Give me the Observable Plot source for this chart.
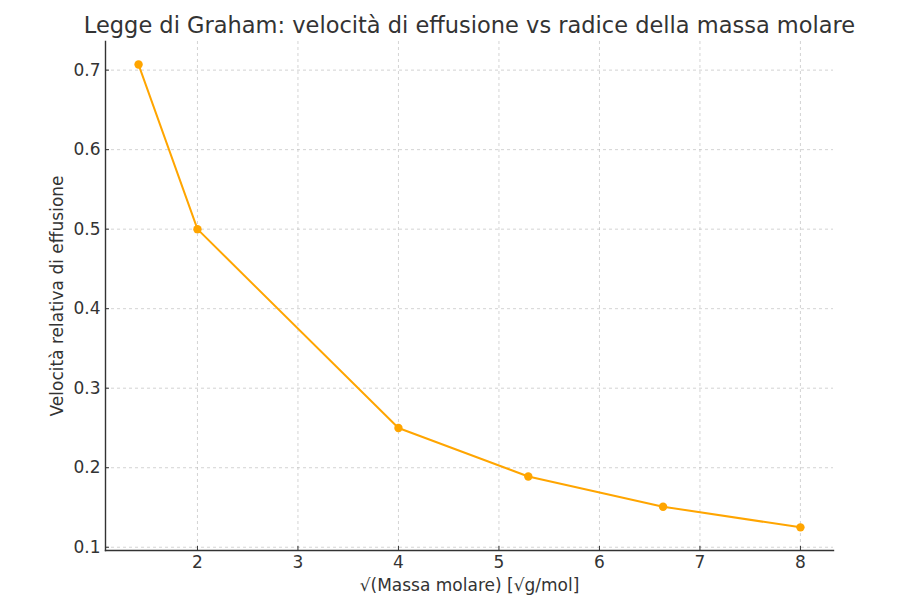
<!DOCTYPE html>
<html>
<head>
<meta charset="utf-8">
<script src="https://cdn.jsdelivr.net/npm/d3@7"></script>
<script src="https://cdn.jsdelivr.net/npm/@observablehq/plot@0.6"></script>
<style>
  html, body { margin: 0; padding: 0; background: #fff; }
  #chart svg { display: block; }
</style>
</head>
<body>
<div id="chart"></div>
<script>
const sqrtMolarMass = [1.414, 2, 4, 5.292, 6.633, 8];
const relativeRate = [0.707, 0.5, 0.25, 0.189, 0.151, 0.125];
const xTicks = [2, 3, 4, 5, 6, 7, 8];
const yTicks = [0.1, 0.2, 0.3, 0.4, 0.5, 0.6, 0.7];
const title = "Legge di Graham: velocità di effusione vs radice della massa molare";
const xLabel = "√(Massa molare) [√g/mol]";
const yLabel = "Velocità relativa di effusione";

const data = sqrtMolarMass.map((x, i) => ({x, y: relativeRate[i]}));
const font = "DejaVu Sans, sans-serif";
const ink = "#333333";

const chart = Plot.plot({
  width: 917,
  height: 603,
  marginLeft: 105,
  marginRight: 84,
  marginTop: 41,
  marginBottom: 53,
  style: {fontFamily: font, fontSize: "17px", color: ink, background: "#fff"},
  x: {domain: [1.085, 8.329], ticks: xTicks, label: null},
  y: {domain: [0.0959, 0.736], ticks: yTicks, label: null},
  marks: [
    Plot.gridX(xTicks, {stroke: "#b0b0b0", strokeOpacity: 0.7, strokeDasharray: "3,3", strokeWidth: 0.8}),
    Plot.gridY(yTicks, {stroke: "#b0b0b0", strokeOpacity: 0.7, strokeDasharray: "3,3", strokeWidth: 0.8}),
    Plot.axisX(xTicks, {tickSize: -4, tickPadding: 9, fontSize: 17, stroke: ink, fill: ink, label: null, tickFormat: d => d}),
    Plot.axisY(yTicks, {tickSize: -4, tickPadding: 9, fontSize: 17, stroke: ink, fill: ink, label: null, tickFormat: d => d.toFixed(1)}),
    Plot.frame({anchor: "left", stroke: ink, strokeWidth: 1.4}),
    Plot.frame({anchor: "bottom", stroke: ink, strokeWidth: 1.4}),
    Plot.line(data, {x: "x", y: "y", stroke: "#FFA500", strokeWidth: 2}),
    Plot.dot(data, {x: "x", y: "y", fill: "#FFA500", r: 4.2}),
    Plot.text([title], {frameAnchor: "top", lineAnchor: "middle", dy: -16, fontSize: 22.5, fill: ink, fontFamily: font}),
    Plot.text([xLabel], {frameAnchor: "bottom", lineAnchor: "middle", dy: 35, fontSize: 17, fill: ink, fontFamily: font}),
    Plot.text([yLabel], {frameAnchor: "left", textAnchor: "middle", lineAnchor: "middle", dx: -48, rotate: -90, fontSize: 17, fill: ink, fontFamily: font})
  ]
});
document.getElementById("chart").appendChild(chart);
</script>
</body>
</html>
